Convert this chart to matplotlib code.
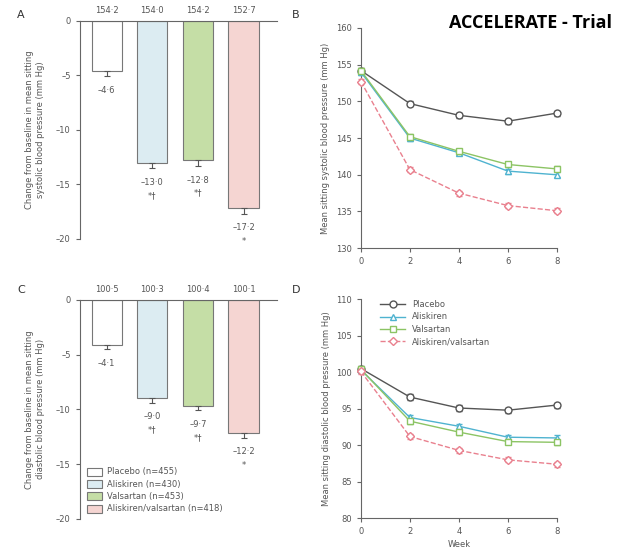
import numpy as np
import matplotlib
matplotlib.use('Agg')
import matplotlib.pyplot as plt
from matplotlib.patches import Patch
from matplotlib.lines import Line2D

plt.rcParams['font.family'] = ['DejaVu Sans']

# bar panels (A: systolic, C: diastolic)
groups = ['Placebo', 'Aliskiren', 'Valsartan', 'Aliskiren/valsartan']
group_n = [455, 430, 453, 418]
sys_change = [-4.6, -13.0, -12.8, -17.2]
sys_err = [0.5, 0.5, 0.5, 0.5]
sys_baseline = ['154·2', '154·0', '154·2', '152·7']
sys_marks = ['', '*†', '*†', '*']
dia_change = [-4.1, -9.0, -9.7, -12.2]
dia_err = [0.4, 0.4, 0.4, 0.4]
dia_baseline = ['100·5', '100·3', '100·4', '100·1']
dia_marks = ['', '*†', '*†', '*']

# line panels (B: systolic, D: diastolic)
weeks = [0, 2, 4, 6, 8]
sys_placebo = [154.2, 149.7, 148.1, 147.3, 148.4]
sys_aliskiren = [154.0, 145.0, 143.0, 140.5, 140.0]
sys_valsartan = [154.2, 145.2, 143.2, 141.4, 140.8]
sys_combo = [152.7, 140.7, 137.5, 135.8, 135.1]
dia_placebo = [100.5, 96.6, 95.1, 94.8, 95.5]
dia_aliskiren = [100.3, 93.8, 92.6, 91.1, 91.0]
dia_valsartan = [100.4, 93.3, 91.8, 90.5, 90.4]
dia_combo = [100.1, 91.2, 89.3, 88.0, 87.4]

bar_colors = ['white', '#dcecf2', '#c5dea6', '#f5d5d2']
line_colors = ['#555555', '#4fb3d0', '#8cc464', '#e9808e']
markers = ['o', '^', 's', 'D']
styles = ['-', '-', '-', '--']
txt = '#555555'

fig = plt.figure(figsize=(6.18, 5.49), dpi=100)


def style_axis(ax):
    for s in ax.spines.values():
        s.set_color('#666666')
        s.set_linewidth(0.8)
    ax.tick_params(colors='#666666', labelcolor=txt, labelsize=6, length=3, width=0.8)


def bar_panel(ax, vals, errs, base, marks, ylabel, show_legend=False):
    x = np.arange(len(vals))
    ax.bar(x, vals, width=0.66, color=bar_colors, edgecolor='#777777', linewidth=0.8, zorder=2)
    ax.errorbar(x, vals, yerr=[errs, [0] * len(errs)], fmt='none', ecolor='#555555',
                elinewidth=0.8, capsize=2.5, capthick=0.8, zorder=3)
    ax.set_xlim(-0.59, 3.73)
    ax.set_ylim(-20, 0)
    ax.set_yticks([0, -5, -10, -15, -20])
    ax.set_yticklabels(['0', '–5', '–10', '–15', '–20'])
    ax.set_xticks([])
    ax.spines['bottom'].set_visible(False)
    ax.spines['right'].set_visible(False)
    style_axis(ax)
    ax.set_ylabel(ylabel, fontsize=6, color=txt, labelpad=8)
    for i, v in enumerate(vals):
        lab = ('–' + str(abs(v))).replace('.', '·')
        if marks[i]:
            lab += '\n' + marks[i]
        ax.annotate(lab, (x[i], v - errs[i]), xytext=(0, -7), textcoords='offset points',
                    ha='center', va='top', fontsize=6, color=txt, linespacing=1.6)
        ax.annotate(base[i], (x[i], 0), xytext=(0, 4), textcoords='offset points',
                    ha='center', va='bottom', fontsize=6, color=txt, annotation_clip=False)
    if show_legend:
        handles = [Patch(facecolor=bar_colors[i], edgecolor='#777777', linewidth=0.8,
                         label='%s (n=%d)' % (groups[i], group_n[i])) for i in range(4)]
        leg = ax.legend(handles=handles, loc='lower left', bbox_to_anchor=(0.0, -0.01),
                        frameon=False, fontsize=6, handlelength=1.8, handleheight=1.1,
                        labelspacing=0.4, handletextpad=0.6)
        for t in leg.get_texts():
            t.set_color(txt)


def line_panel(ax, series, ylim, yticks, ylabel, xlabel=None, show_legend=False):
    for i, y in enumerate(series):
        ax.errorbar(weeks, y, yerr=0.35, color=line_colors[i], linestyle=styles[i],
                    linewidth=1.0, marker=markers[i], markersize=5 if markers[i] != 'D' else 4.5,
                    markerfacecolor='white', markeredgecolor=line_colors[i], markeredgewidth=1.0,
                    elinewidth=0.8, capsize=2, clip_on=False, zorder=3 + i)
    ax.set_xlim(0, 8)
    ax.set_ylim(*ylim)
    ax.set_xticks(weeks)
    ax.set_yticks(yticks)
    ax.spines['top'].set_visible(False)
    ax.spines['right'].set_visible(False)
    style_axis(ax)
    ax.set_ylabel(ylabel, fontsize=6, color=txt, labelpad=4)
    if xlabel:
        ax.set_xlabel(xlabel, fontsize=6, color=txt, labelpad=3)
    if show_legend:
        handles = [Line2D([0], [0], color=line_colors[i], linestyle=styles[i], linewidth=1.0,
                          marker=markers[i], markersize=5 if markers[i] != 'D' else 4.5,
                          markerfacecolor='white', markeredgecolor=line_colors[i],
                          label=groups[i]) for i in range(4)]
        leg = ax.legend(handles=handles, loc='upper left', bbox_to_anchor=(0.06, 1.03),
                        frameon=False, fontsize=6, handlelength=3.0, labelspacing=0.4)
        for t in leg.get_texts():
            t.set_color(txt)


ax_a = fig.add_axes([0.129, 0.565, 0.319, 0.397])
bar_panel(ax_a, sys_change, sys_err, sys_baseline, sys_marks,
          'Change from baseline in mean sitting\nsystolic blood pressure (mm Hg)')

ax_c = fig.add_axes([0.129, 0.055, 0.319, 0.399])
bar_panel(ax_c, dia_change, dia_err, dia_baseline, dia_marks,
          'Change from baseline in mean sitting\ndiastolic blood pressure (mm Hg)', show_legend=True)

ax_b = fig.add_axes([0.584, 0.548, 0.317, 0.401])
line_panel(ax_b, [sys_placebo, sys_aliskiren, sys_valsartan, sys_combo], (130, 160),
           [130, 135, 140, 145, 150, 155, 160], 'Mean sitting systolic blood pressure (mm Hg)')

ax_d = fig.add_axes([0.584, 0.056, 0.317, 0.399])
line_panel(ax_d, [dia_placebo, dia_aliskiren, dia_valsartan, dia_combo], (80, 110),
           [80, 85, 90, 95, 100, 105, 110], 'Mean sitting diastolic blood pressure (mm Hg)',
           xlabel='Week', show_legend=True)

for lab, xx, yy in [('A', 0.028, 0.972), ('B', 0.472, 0.972), ('C', 0.028, 0.472), ('D', 0.472, 0.472)]:
    fig.text(xx, yy, lab, fontsize=8, color='#333333', ha='left', va='center')

fig.text(0.99, 0.958, 'ACCELERATE - Trial', fontsize=13, fontweight='bold',
         family=['Open Sans', 'DejaVu Sans'], ha='right', va='center', color='black')

fig.savefig('out.png', dpi=100)
